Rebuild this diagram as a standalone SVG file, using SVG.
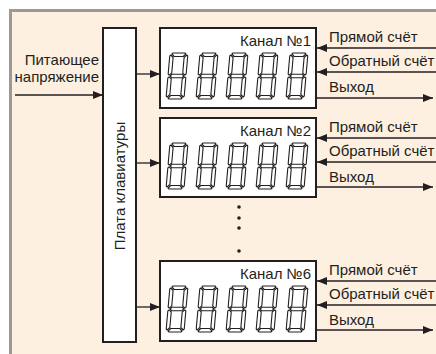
<svg xmlns="http://www.w3.org/2000/svg" xmlns:xlink="http://www.w3.org/1999/xlink" width="436" height="354" viewBox="0 0 436 354">
<style>
text{font-family:"Liberation Sans",Arial,sans-serif;font-size:15px;fill:#231f20}
.box{fill:#fff;stroke:#231f20;stroke-width:2}
.ln{stroke:#231f20;stroke-width:1.3;fill:none}
.seg{fill:#fff;stroke:#231f20;stroke-width:1.1;stroke-linejoin:round}
.r{text-anchor:end}
</style>
<defs>
<marker id="ah" viewBox="0 0 10 8" refX="10" refY="4" markerWidth="10" markerHeight="8" markerUnits="userSpaceOnUse" orient="auto">
<path d="M0,0 L10,4 L0,8 Z" fill="#231f20"/>
</marker>
<g id="digit" transform="skewX(-5)">
<polygon class="seg" points="2,1 3,0 15,0 16,1 13.5,3.5 4.5,3.5"/>
<polygon class="seg" points="17,2 18,3 18,21 16.8,22.2 14.5,20 14.5,4.5"/>
<polygon class="seg" points="16.8,23.8 18,25 18,43 17,44 14.5,41.5 14.5,26"/>
<polygon class="seg" points="4.5,42.5 13.5,42.5 16,45 15,46 3,46 2,45"/>
<polygon class="seg" points="1.2,23.8 3.5,26 3.5,41.5 1,44 0,43 0,25"/>
<polygon class="seg" points="1,2 3.5,4.5 3.5,20 1.2,22.2 0,21 0,3"/>
<polygon class="seg" points="2.2,23 4,21.2 14,21.2 15.8,23 14,24.8 4,24.8"/>
</g>
<g id="digits">
<use xlink:href="#digit" x="170" y="0"/>
<use xlink:href="#digit" x="200" y="0"/>
<use xlink:href="#digit" x="230" y="0"/>
<use xlink:href="#digit" x="260" y="0"/>
<use xlink:href="#digit" x="290" y="0"/>
</g>
</defs>
<rect x="0" y="0" width="436" height="354" fill="#fff"/>
<rect x="10.5" y="10.5" width="440" height="360" fill="#fdf0e1" stroke="#9a9a9a" stroke-width="3"/>

<g id="plate">
<rect class="box" x="103" y="28" width="33" height="314"/>
<text transform="translate(125,186) rotate(-90)" text-anchor="middle">Плата клавиатуры</text>
</g>

<g id="power">
<text class="r" x="99" y="65">Питающее</text>
<text class="r" x="99" y="82">напряжение</text>
</g>

<g id="channel1">
<rect class="box" x="160" y="28" width="156" height="80"/>
<text class="r" x="311" y="46">Канал №1</text>
<use xlink:href="#digits" y="53"/>
</g>
<g id="channel2">
<rect class="box" x="160" y="118" width="156" height="79"/>
<text class="r" x="311" y="136">Канал №2</text>
<use xlink:href="#digits" y="143"/>
</g>
<g id="channel6">
<rect class="box" x="160" y="261" width="156" height="80"/>
<text class="r" x="311" y="279">Канал №6</text>
<use xlink:href="#digits" y="286"/>
</g>

<g id="dots" fill="#231f20">
<circle cx="239" cy="207" r="1.8"/>
<circle cx="239" cy="218" r="1.8"/>
<circle cx="239" cy="228" r="1.8"/>
<circle cx="239" cy="251" r="1.8"/>
</g>

<g id="signal-labels">
<text x="329" y="42">Прямой счёт</text>
<text x="329" y="66">Обратный счёт</text>
<text x="329" y="92">Выход</text>
<text x="329" y="132">Прямой счёт</text>
<text x="329" y="156">Обратный счёт</text>
<text x="329" y="182">Выход</text>
<text x="329" y="275">Прямой счёт</text>
<text x="329" y="299">Обратный счёт</text>
<text x="329" y="325">Выход</text>
</g>

<g id="connectors" class="ln" marker-end="url(#ah)">
<line class="ln" x1="15" y1="95" x2="103" y2="95" marker-end="url(#ah)"/>
<line class="ln" x1="136" y1="74" x2="160" y2="74" marker-end="url(#ah)"/>
<line class="ln" x1="136" y1="163" x2="160" y2="163" marker-end="url(#ah)"/>
<line class="ln" x1="136" y1="307" x2="160" y2="307" marker-end="url(#ah)"/>
<line class="ln" x1="436" y1="48" x2="317" y2="48" marker-end="url(#ah)"/>
<line class="ln" x1="436" y1="72" x2="317" y2="72" marker-end="url(#ah)"/>
<line class="ln" x1="317" y1="98" x2="433" y2="98" marker-end="url(#ah)"/>
<line class="ln" x1="436" y1="138" x2="317" y2="138" marker-end="url(#ah)"/>
<line class="ln" x1="436" y1="162" x2="317" y2="162" marker-end="url(#ah)"/>
<line class="ln" x1="317" y1="187" x2="433" y2="187" marker-end="url(#ah)"/>
<line class="ln" x1="436" y1="281" x2="317" y2="281" marker-end="url(#ah)"/>
<line class="ln" x1="436" y1="305" x2="317" y2="305" marker-end="url(#ah)"/>
<line class="ln" x1="317" y1="330" x2="433" y2="330" marker-end="url(#ah)"/>
</g>
</svg>
